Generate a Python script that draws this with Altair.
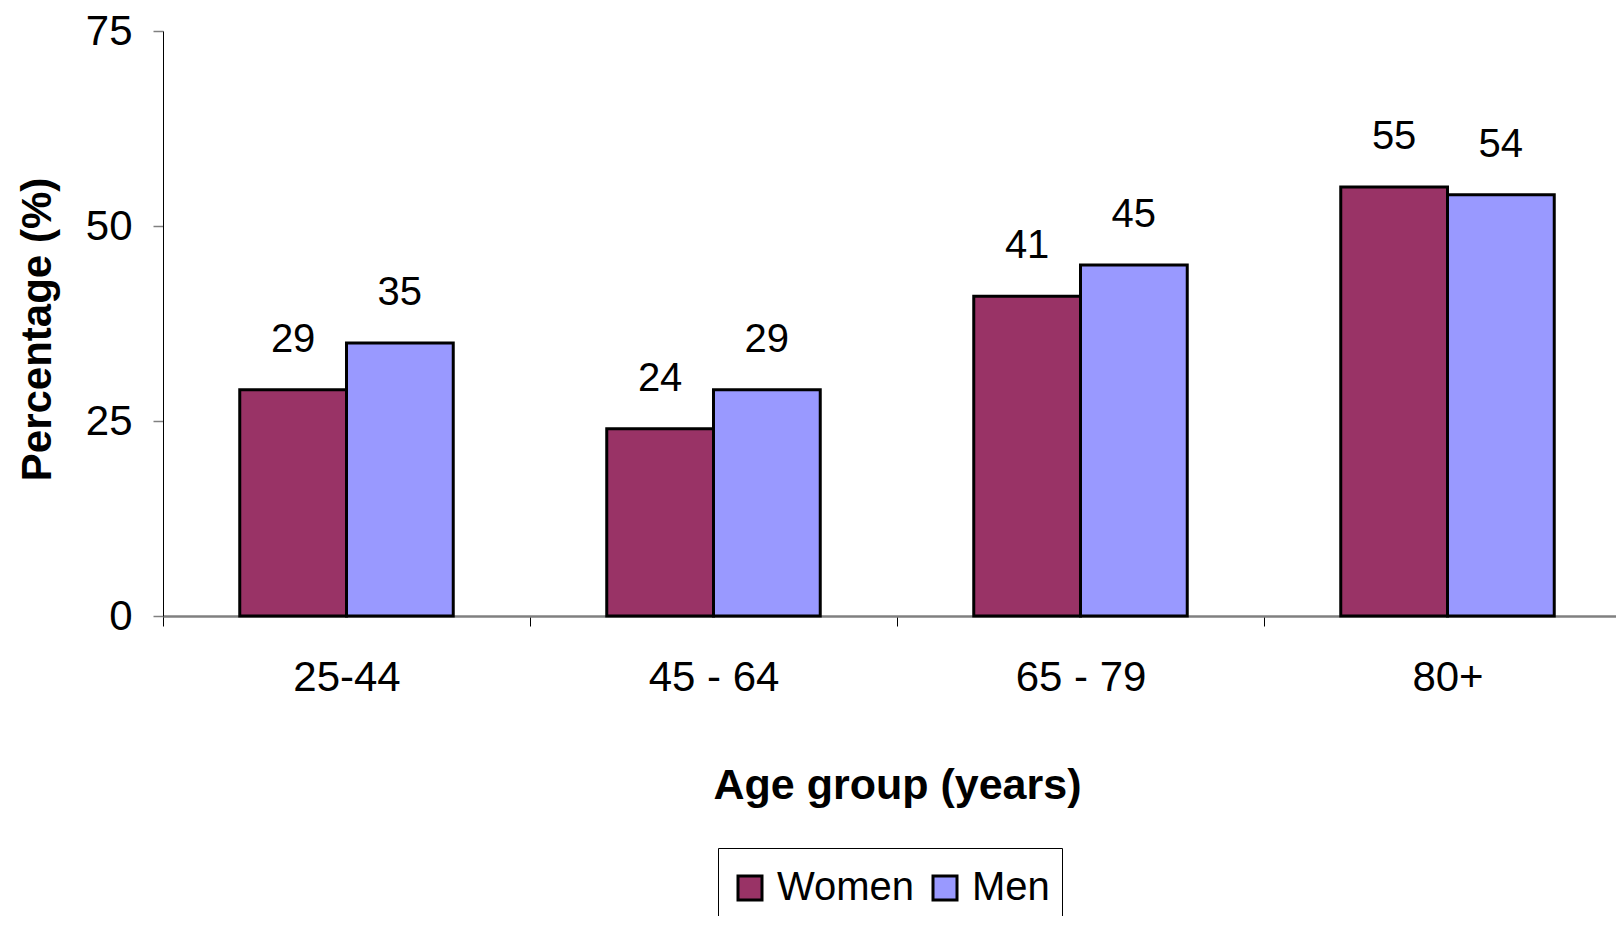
import altair as alt
import pandas as pd

ages = ["25-44", "45 - 64", "65 - 79", "80+"]
sexes = ["Women", "Men"]
women = [29, 24, 41, 55]
men = [35, 29, 45, 54]
colors = ["#993366", "#9999FF"]

rows = []
for i, a in enumerate(ages):
    rows.append({"age": a, "sex": "Women", "value": women[i]})
    rows.append({"age": a, "sex": "Men", "value": men[i]})
df = pd.DataFrame(rows)

FONT = "Liberation Sans"

xscale = alt.Scale(range=[0, 1468], paddingInner=0, paddingOuter=0)
xoscale = alt.Scale(paddingInner=0, paddingOuter=0.719)

x = alt.X(
    "age:N",
    sort=ages,
    scale=xscale,
    axis=alt.Axis(
        title="Age group (years)",
        labelAngle=0,
        tickBand="extent",
        tickSize=10,
        tickColor="black",
        tickWidth=1,
        domainColor="#808080",
        domainWidth=2.5,
        labelFontSize=42,
        labelFont=FONT,
        labelColor="black",
        labelBaseline="alphabetic",
        labelPadding=64,
        titleFontSize=43,
        titleFont=FONT,
        titleFontWeight="bold",
        titleColor="black",
        titleBaseline="alphabetic",
        titleY=182,
    ),
)
xo = alt.XOffset("sex:N", sort=sexes, scale=xoscale)
y = alt.Y(
    "value:Q",
    scale=alt.Scale(domain=[0, 75], nice=False),
    axis=alt.Axis(
        title="Percentage (%)",
        values=[0, 25, 50, 75],
        grid=False,
        tickSize=10,
        tickColor="#808080",
        tickWidth=1.5,
        domainColor="black",
        domainWidth=1,
        labelFontSize=42,
        labelFont=FONT,
        labelColor="black",
        labelPadding=21,
        titleFontSize=42,
        titleFont=FONT,
        titleFontWeight="bold",
        titleColor="black",
        titleBaseline="alphabetic",
        titleX=-113,
        titleY=298,
    ),
)

bars = alt.Chart(df).mark_bar(stroke="black", strokeWidth=3).encode(
    x=x,
    xOffset=xo,
    y=y,
    color=alt.Color(
        "sex:N",
        sort=sexes,
        scale=alt.Scale(domain=sexes, range=colors),
        legend=alt.Legend(
            title=" ",
            titleFontSize=6,
            titlePadding=2,
            orient="none",
            legendX=555,
            legendY=817,
            direction="horizontal",
            symbolType="square",
            symbolSize=576,
            symbolStrokeWidth=3,
            symbolStrokeColor="black",
            symbolOpacity=1,
            labelFontSize=40,
            labelFont=FONT,
            labelColor="black",
            labelOffset=7,
            columnPadding=10,
            padding=12,
            strokeColor="black",
        ),
    ),
)

labels = alt.Chart(df).mark_text(
    fontSize=40, font=FONT, color="black", baseline="alphabetic", dy=-38
).encode(
    x=alt.X("age:N", sort=ages, scale=xscale),
    xOffset=alt.XOffset("sex:N", sort=sexes, scale=xoscale),
    y=alt.Y("value:Q"),
    text=alt.Text("value:Q"),
)

chart = (
    alt.layer(bars, labels)
    .properties(
        width=1453,
        height=585,
        padding={"left": 163, "top": 31, "right": 0, "bottom": 300},
        autosize=alt.AutoSizeParams(type="none"),
        background="white",
    )
    .configure_view(strokeWidth=0)
)

chart.save("out.html", embed_options={"renderer": "svg", "actions": False})
